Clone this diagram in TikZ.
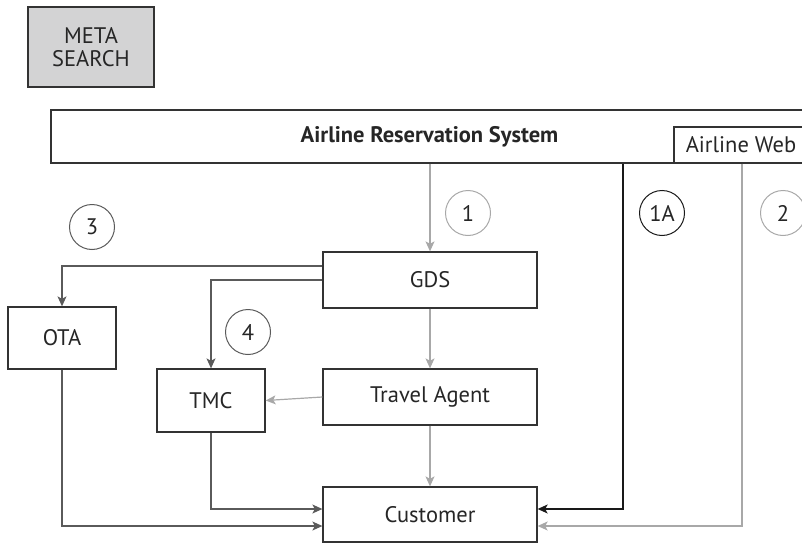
\documentclass[tikz,border=0pt]{standalone}
\usepackage{fontspec}
\setmainfont{PT Sans}
\usetikzlibrary{arrows.meta}
\definecolor{boxline}{HTML}{333333}
\definecolor{darkflow}{HTML}{5A5A5A}
\definecolor{lightflow}{HTML}{A8A8A8}
\definecolor{metafill}{HTML}{D3D3D4}
\tikzset{
  box/.style={draw=boxline, line width=1.3pt, fill=white, rectangle, inner sep=0pt,
    font=\fontsize{22.5}{26}\selectfont, text=black!85},
  badge/.style={draw, circle, line width=1pt, minimum size=45pt, inner sep=0pt,
    font=\fontsize{22.5}{26}\selectfont, text=black!85},
  tip/.style={-{Stealth[length=10pt, width=9pt, inset=2.5pt]}},
  darkarrow/.style={tip, draw=darkflow, line width=1.2pt},
  lightarrow/.style={tip, draw=lightflow, line width=1.2pt},
  blackarrow/.style={tip, draw=black!90, line width=1.2pt},
}
\begin{document}
\begin{tikzpicture}[x=1pt, y=-1pt]
\useasboundingbox (0,0) rectangle (802,543);
\clip (0,0) rectangle (802,543);

% boxes
\node[box, fill=metafill, minimum width=126pt, minimum height=80pt, align=center] (meta) at (91,47) {META\\[-3pt]SEARCH};
\node[box, minimum width=757pt, minimum height=53pt, font=\fontsize{22.5}{26}\selectfont\bfseries] (ars) at (429.5,136.5) {Airline Reservation System};
\node[box, minimum width=134pt, minimum height=36pt] (web) at (741,145) {Airline Web};
\node[box, minimum width=214pt, minimum height=56pt] (gds) at (430,280) {GDS};
\node[box, minimum width=214pt, minimum height=56pt] (ta) at (430,397) {Travel Agent};
\node[box, minimum width=214pt, minimum height=55pt] (cust) at (430,514.5) {Customer};
\node[box, minimum width=108pt, minimum height=62pt] (ota) at (62,338) {OTA};
\node[box, minimum width=108pt, minimum height=63pt] (tmc) at (211,400.5) {TMC};

% numbered badges
\node[badge, draw=darkflow] (n3) at (92,227) {3};
\node[badge, draw=lightflow] (n1) at (468,213) {1};
\node[badge, draw=black!90] (n1a) at (662,213) {1A};
\node[badge, draw=lightflow] (n2) at (783,213) {2};
\node[badge, draw=darkflow] (n4) at (248,332) {4};

% routing levels
\coordinate (otaLevel) at (0,266);
\coordinate (tmcLevel) at (0,280);
\coordinate (directRun) at (623,509);
\coordinate (webRun) at (742,526);
\coordinate (otaRun) at (0,526);
\coordinate (tmcRun) at (0,509);

% flows
\draw[lightarrow] (ars.south -| gds.north) -- (gds.north);
\draw[lightarrow] (gds.south) -- (ta.north);
\draw[lightarrow] (ta.south) -- (cust.north);
\draw[lightarrow] (ta.west) -- (tmc.east);
\draw[darkarrow] (gds.west |- otaLevel) -| (ota.north);
\draw[darkarrow] (gds.west |- tmcLevel) -| (tmc.north);
\draw[darkarrow] (tmc.south) |- (tmcRun -| cust.west);
\draw[darkarrow] (ota.south) |- (otaRun -| cust.west);
\draw[blackarrow] (ars.south -| directRun) |- (directRun -| cust.east);
\draw[lightarrow] (web.south -| webRun) |- (webRun -| cust.east);
\end{tikzpicture}
\end{document}
